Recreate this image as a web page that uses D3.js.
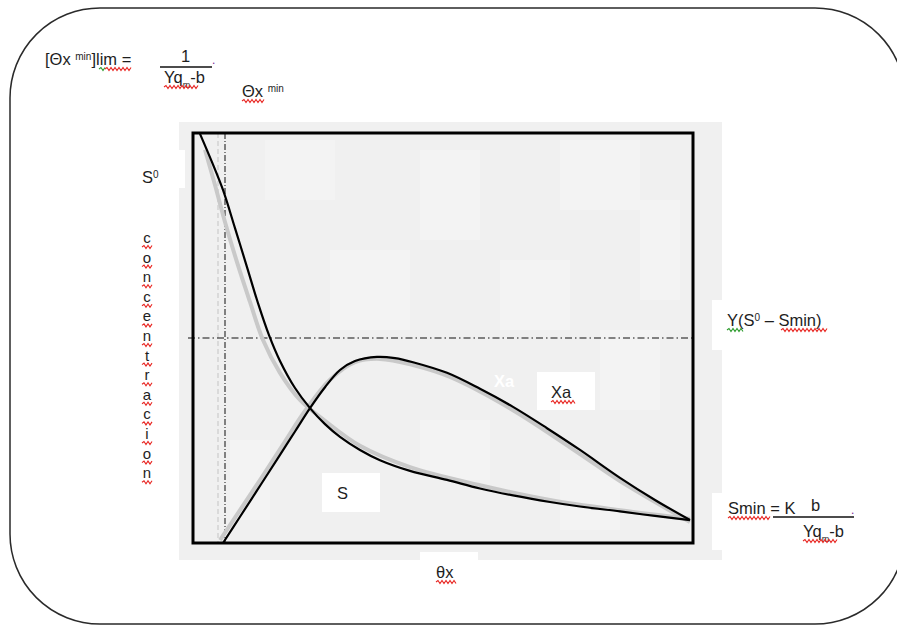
<!DOCTYPE html>
<html>
<head>
<meta charset="utf-8">
<script src="https://cdn.jsdelivr.net/npm/d3@7"></script>
<style>
  html, body { margin: 0; padding: 0; background: #ffffff; }
  svg { display: block; }
  text { font-family: "Liberation Sans", Arial, sans-serif; fill: #1e1e1e; }
</style>
</head>
<body>
<svg id="chart" width="897" height="626"></svg>
<script>
// θx (residence time) axis and concentration axis, both on a 0–100 relative scale
const sTheta = [1.4, 3.8, 6.0, 8.4, 10.8, 13.0, 15.2, 17.4, 20.4, 23.4, 26.4, 29.4, 33.4, 37.4, 43.4, 50.8, 57.4, 64.0, 71.4, 77.4, 85.4, 92.4, 99.4];
const sConc  = [99.8, 92.9, 86.1, 76.8, 67.3, 58.5, 50.7, 44.4, 37.8, 32.9, 29.0, 25.9, 22.7, 20.2, 17.6, 15.4, 13.3, 11.6, 10.0, 8.9, 7.7, 6.6, 5.6];

const xaTheta = [6.0, 9.4, 13.8, 17.4, 20.4, 23.4, 26.4, 29.4, 32.4, 36.8, 40.4, 44.0, 50.8, 57.4, 64.0, 70.8, 77.4, 85.4, 92.4, 99.4];
const xaConc  = [0, 6.4, 14.7, 21.5, 27.2, 32.9, 38.0, 42.2, 44.4, 45.4, 45.1, 44.1, 41.5, 37.6, 33.2, 28.0, 22.7, 15.9, 10.5, 5.6];

// lighter companion traces drawn under the main curves
const sGrayTheta = [2.4, 4.4, 6.4, 8.8, 11.4, 14.0, 17.4, 21.4, 26.4, 33.4, 43.4, 57.4, 71.4, 85.4, 99.4];
const sGrayConc  = [95.9, 87.3, 78.3, 68.5, 58.8, 49.5, 41.5, 34.9, 29.8, 23.7, 18.5, 14.1, 10.5, 8.0, 5.9];
const xaGrayTheta = [5.4, 9.4, 13.8, 18.2, 22.4, 27.4, 32.4, 37.4, 44.0, 51.4, 64.0, 77.4, 85.4, 99.4];
const xaGrayConc  = [0.7, 8.0, 16.1, 24.4, 32.2, 39.8, 44.1, 44.9, 43.4, 40.5, 32.4, 21.7, 15.1, 5.1];

// reference levels
const thetaMin = 6.4;        // θx min (washout limit)
const thetaMinFaint = 5.0;
const yieldLevel = 50;       // Y(S0 − Smin)

// vertical axis title, one letter per line
const axisLetters = ["c","o","n","c","e","n","t","r","a","c","i","o","n"];

const svg = d3.select("#chart");

const plot = { left: 193, right: 693, top: 133, bottom: 543 };
const x = d3.scaleLinear().domain([0, 100]).range([plot.left, plot.right]);
const y = d3.scaleLinear().domain([0, 100]).range([plot.bottom, plot.top]);

// outer rounded panel
svg.append("rect")
  .attr("x", 10).attr("y", 8).attr("width", 895).attr("height", 616)
  .attr("rx", 90).attr("ry", 90)
  .attr("fill", "#fff").attr("stroke", "#2a2a2a").attr("stroke-width", 1.5);

// gray backdrop of the plot
svg.append("rect")
  .attr("x", 179).attr("y", 122).attr("width", 543).attr("height", 438)
  .attr("fill", "#f0f0f0");
// soft shading blocks in the backdrop
const blocks = [[265,140,70,60],[420,150,60,90],[560,140,80,70],[330,250,80,80],[500,260,70,70],[600,330,60,80],[420,420,70,60],[230,440,40,80],[560,470,60,60],[640,200,40,100]];
svg.selectAll("rect.block").data(blocks).enter().append("rect")
  .attr("class", "block")
  .attr("x", d => d[0]).attr("y", d => d[1]).attr("width", d => d[2]).attr("height", d => d[3])
  .attr("fill", "#f3f3f3");

// white label patches
const patches = [[322,473,58,39],[537,372,58,38],[420,552,58,36],[135,150,50,38],[712,300,10,50],[712,493,10,57]];
svg.selectAll("rect.patch").data(patches).enter().append("rect")
  .attr("class", "patch")
  .attr("x", d => d[0]).attr("y", d => d[1]).attr("width", d => d[2]).attr("height", d => d[3])
  .attr("fill", "#fff");

// reference lines
svg.append("line")
  .attr("x1", x(thetaMinFaint)).attr("x2", x(thetaMinFaint))
  .attr("y1", y(100)).attr("y2", y(0))
  .attr("stroke", "#c4c4c4").attr("stroke-width", 1).attr("stroke-dasharray", "5,3");
svg.append("line")
  .attr("x1", x(thetaMin)).attr("x2", x(thetaMin))
  .attr("y1", y(100)).attr("y2", y(0))
  .attr("stroke", "#111").attr("stroke-width", 1).attr("stroke-dasharray", "6,2,1,2");
svg.append("line")
  .attr("x1", plot.left - 5).attr("x2", x(100))
  .attr("y1", y(yieldLevel)).attr("y2", y(yieldLevel))
  .attr("stroke", "#111").attr("stroke-width", 1).attr("stroke-dasharray", "7,3,1.5,3");

// curves
const line = d3.line().x(d => x(d[0])).y(d => y(d[1])).curve(d3.curveCatmullRom.alpha(0.5));
const zip = (a, b) => a.map((v, i) => [v, b[i]]);

svg.append("path").datum(zip(sGrayTheta, sGrayConc))
  .attr("d", line).attr("fill", "none").attr("stroke", "#c9c9c9").attr("stroke-width", 4);
svg.append("path").datum(zip(xaGrayTheta, xaGrayConc))
  .attr("d", line).attr("fill", "none").attr("stroke", "#c9c9c9").attr("stroke-width", 4);
svg.append("path").datum(zip(sTheta, sConc))
  .attr("d", line).attr("fill", "none").attr("stroke", "#000").attr("stroke-width", 2.2);
svg.append("path").datum(zip(xaTheta, xaConc))
  .attr("d", line).attr("fill", "none").attr("stroke", "#000").attr("stroke-width", 2.2);

// plot frame
svg.append("rect")
  .attr("x", plot.left).attr("y", plot.top)
  .attr("width", plot.right - plot.left).attr("height", plot.bottom - plot.top)
  .attr("fill", "none").attr("stroke", "#000").attr("stroke-width", 3);

// spell-check style wavy underline
function wavy(x1, x2, yy, color) {
  let d = `M${x1},${yy}`;
  let up = true;
  for (let xx = x1 + 2; xx <= x2; xx += 2) {
    d += `L${xx},${yy + (up ? -1.5 : 1.5)}`;
    up = !up;
  }
  svg.append("path").attr("d", d).attr("fill", "none")
    .attr("stroke", color || "#e8231f").attr("stroke-width", 1.1);
}

function label(tx, ty, parts, size) {
  const t = svg.append("text").attr("x", tx).attr("y", ty).style("font-size", (size || 16.5) + "px");
  parts.forEach(p => {
    const s = t.append("tspan").text(p.t);
    if (p.sup) s.attr("baseline-shift", "super").style("font-size", "10px");
    if (p.sub) s.attr("baseline-shift", "sub").style("font-size", "9px");
    if (p.fill) s.style("fill", p.fill);
  });
  return t;
}

// washout limit formula
label(45, 65, [{t: "[Θx "}, {t: "min", sup: true}, {t: "]lim ="}]);
wavy(99, 105, 69, "#2a9a2a");
wavy(105, 131, 69);
label(181, 62, [{t: "1"}]);
svg.append("line").attr("x1", 160).attr("x2", 212).attr("y1", 67).attr("y2", 67).attr("stroke", "#111").attr("stroke-width", 1.3);
label(212, 64, [{t: ".", fill: "#7a2a9a"}], 12);
label(164, 83, [{t: "Yq"}, {t: "m", sub: true}, {t: "-b"}]);
wavy(164, 198, 87);

label(242, 97, [{t: "Θx "}, {t: "min", sup: true}]);
wavy(242, 264, 101);

// vertical axis title
label(142, 183, [{t: "S"}, {t: "0", sup: true}]);
svg.selectAll("text.letter").data(axisLetters).enter().append("text")
  .attr("class", "letter")
  .attr("x", 147).attr("y", (d, i) => 243 + i * 19.6)
  .attr("text-anchor", "middle")
  .style("font-size", "15px")
  .text(d => d);
axisLetters.forEach((d, i) => wavy(142, 153, 247 + i * 19.6));

// right side annotations
label(727, 326, [{t: "Y(S"}, {t: "0", sup: true}, {t: " – Smin)"}]);
wavy(727, 743, 330, "#2a9a2a");
wavy(781, 827, 330);

label(728, 514, [{t: "Smin = K"}]);
wavy(728, 771, 518);
label(811, 511, [{t: "b"}]);
svg.append("line").attr("x1", 773).attr("x2", 854).attr("y1", 517).attr("y2", 517).attr("stroke", "#111").attr("stroke-width", 1.3);
label(851, 514, [{t: ".", fill: "#7a2a9a"}], 12);
label(803, 537, [{t: "Yq"}, {t: "m", sub: true}, {t: "-b"}]);
wavy(803, 837, 541);

// curve labels
label(494, 387, [{t: "Xa"}]).style("fill", "#fff").style("font-weight", "bold");
label(551, 398, [{t: "Xa"}]);
wavy(551, 575, 402);
label(337, 499, [{t: "S"}]);

// horizontal axis title
label(436, 578, [{t: "θx"}]);
wavy(436, 456, 582);
</script>
</body>
</html>
